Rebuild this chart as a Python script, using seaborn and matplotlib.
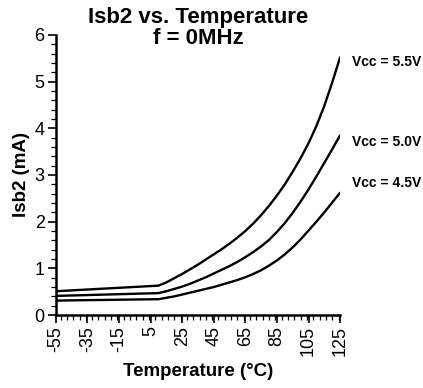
import matplotlib
matplotlib.use("Agg")
import matplotlib.pyplot as plt
from matplotlib.ticker import MultipleLocator
import pandas as pd
import seaborn as sns

# Temperature sweep points (°C)
temperature = [-55, 10, 15, 20, 25, 30, 35, 40, 45, 50, 55, 60, 65, 70,
               75, 80, 85, 90, 95, 100, 105, 110, 115, 120, 125]

# Standby current Isb2 (mA) for each supply voltage
isb2_vcc_55 = [0.51, 0.63, 0.70, 0.79, 0.88, 0.98, 1.08, 1.19, 1.30, 1.41, 1.53, 1.66, 1.80,
               1.96, 2.14, 2.34, 2.56, 2.80, 3.07, 3.36, 3.68, 4.05, 4.48, 4.98, 5.52]
isb2_vcc_50 = [0.41, 0.47, 0.51, 0.56, 0.61, 0.67, 0.74, 0.81, 0.89, 0.97, 1.05, 1.14, 1.24,
               1.35, 1.47, 1.61, 1.78, 1.97, 2.19, 2.43, 2.69, 2.97, 3.26, 3.55, 3.85]
isb2_vcc_45 = [0.31, 0.34, 0.37, 0.40, 0.44, 0.48, 0.52, 0.56, 0.60, 0.65, 0.70, 0.75, 0.81,
               0.88, 0.96, 1.06, 1.17, 1.30, 1.45, 1.62, 1.81, 2.00, 2.20, 2.41, 2.62]

series_labels = ["Vcc = 5.5V", "Vcc = 5.0V", "Vcc = 4.5V"]
label_y = [5.42, 3.70, 2.83]

x_ticks = [-55, -35, -15, 5, 25, 45, 65, 85, 105, 125]
y_ticks = [0, 1, 2, 3, 4, 5, 6]

frames = []
for lab, vals in zip(series_labels, [isb2_vcc_55, isb2_vcc_50, isb2_vcc_45]):
    frames.append(pd.DataFrame({"Temperature": temperature, "Isb2": vals, "Vcc": lab}))
df = pd.concat(frames, ignore_index=True)

sns.set_style("ticks")
plt.rcParams["font.family"] = ["Liberation Sans", "DejaVu Sans"]
plt.rcParams.update({"text.color": "black", "axes.labelcolor": "black",
                     "xtick.color": "black", "ytick.color": "black"})

fig = plt.figure(figsize=(4.23, 3.88), dpi=100)
ax = fig.add_axes([0.132, 0.188, 0.672, 0.722])

sns.lineplot(data=df, x="Temperature", y="Isb2", hue="Vcc",
             palette=["black"] * 3, linewidth=1.7, legend=False, ax=ax)

ax.set_xlim(-55, 125)
ax.set_ylim(0, 6)
ax.set_xticks(x_ticks)
ax.set_yticks(y_ticks)
ax.xaxis.set_minor_locator(MultipleLocator(4))
ax.yaxis.set_minor_locator(MultipleLocator(0.2))
ax.set_xticklabels([str(t) for t in x_ticks], rotation=90, fontsize=13)
ax.set_yticklabels([str(t) for t in y_ticks], fontsize=13)

ax.tick_params(axis="both", which="major", length=6, width=1.2, color="black",
               labelcolor="black", pad=2)
ax.tick_params(axis="both", which="minor", length=3.5, width=0.9, color="black")

sns.despine(ax=ax)
for side in ["left", "bottom"]:
    ax.spines[side].set_linewidth(1.8)
    ax.spines[side].set_color("black")

ax.set_xlabel("Temperature (°C)", fontsize=13.5, fontweight="bold", labelpad=5,
              color="black")
ax.set_ylabel("Isb2 (mA)", fontsize=13.5, fontweight="bold", labelpad=3,
              color="black")

fig.text(0.468, 1 - 7 / 388, "Isb2 vs. Temperature\nf = 0MHz", fontsize=16,
         fontweight="bold", ha="center", va="top", linespacing=1.02, color="black")

for lab, yv in zip(series_labels, label_y):
    ax.text(132.5, yv, lab, fontsize=10, fontweight="bold", va="center",
            ha="left", clip_on=False, color="black")

fig.savefig("out.png", dpi=100, facecolor="white")
